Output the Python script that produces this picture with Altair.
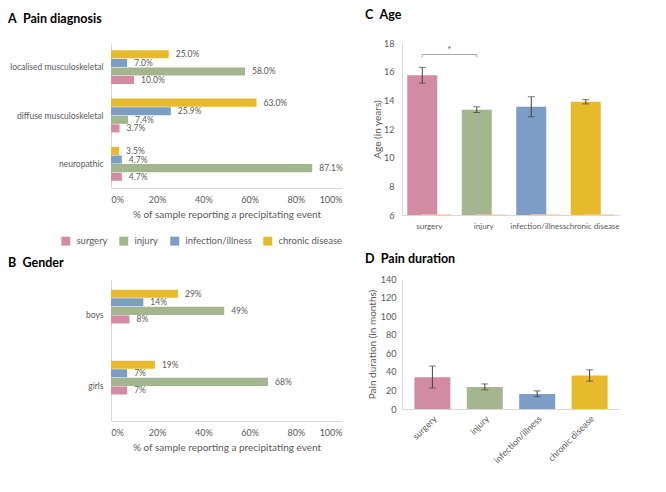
import altair as alt
import pandas as pd

FONT = "Lato"
GRAY = "#595959"

events = ["surgery", "injury", "infection/illness", "chronic disease"]
colors = ["#D38BA3", "#A4B68F", "#7C9DC5", "#E7BA2D"]

diag_categories = ["localised musculoskeletal", "diffuse musculoskeletal", "neuropathic"]
diag_surgery = [10.0, 3.7, 4.7]
diag_injury = [58.0, 7.4, 87.1]
diag_infection = [7.0, 25.9, 4.7]
diag_chronic = [25.0, 63.0, 3.5]

gender_categories = ["boys", "girls"]
gender_surgery = [8, 7]
gender_injury = [49, 68]
gender_infection = [14, 7]
gender_chronic = [29, 19]

pct_ticks = [0, 20, 40, 60, 80, 100]

age_mean = [15.75, 13.35, 13.55, 13.9]
age_low = [15.2, 13.15, 12.85, 13.75]
age_high = [16.3, 13.55, 14.25, 14.05]
age_base = [6, 6, 6, 6]
age_ticks = [6, 8, 10, 12, 14, 16, 18]

sig_x = ["surgery", "surgery", "injury", "injury"]
sig_y = [17.0, 17.2, 17.2, 17.0]
sig_label = ["*"]
sig_label_x = ["surgery"]
sig_label_y = [17.5]

dur_mean = [34.3, 23.8, 16.2, 36.1]
dur_low = [22.7, 20.6, 13.4, 30.0]
dur_high = [46.2, 27.0, 19.5, 42.2]
dur_base = [0, 0, 0, 0]
dur_ticks = [0, 20, 40, 60, 80, 100, 120, 140]


def title(text, dx, offset):
    return alt.TitleParams(text=text, anchor="start", frame="group", dx=dx, offset=offset,
                           font=FONT, fontSize=12.5, fontWeight="bold", color="black")


def pct_panel(cats, series, fmt, ttl, tdx, toff, h, legend):
    rows = []
    for ev, vals in zip(events, series):
        for c, v in zip(cats, vals):
            rows.append({"category": c, "event": ev, "value": v, "label": format(v, fmt) + "%"})
    df = pd.DataFrame(rows)
    base = alt.Chart(df).encode(
        y=alt.Y("category:N", scale=alt.Scale(domain=cats, paddingInner=0.3, paddingOuter=0.15),
                axis=alt.Axis(title=None, labelPadding=8, labelFontSize=8.5)),
        yOffset=alt.YOffset("event:N", scale=alt.Scale(domain=events[::-1], paddingInner=0.06)),
        x=alt.X("value:Q", scale=alt.Scale(domain=[0, 100]),
                axis=alt.Axis(values=pct_ticks, labelExpr="datum.value + '%'",
                              title="% of sample reporting a precipitating event",
                              labelPadding=7, titlePadding=5)),
    )
    bars = base.mark_bar().encode(
        color=alt.Color("event:N", scale=alt.Scale(domain=events, range=colors), legend=legend))
    text = base.mark_text(align="left", baseline="middle", dx=7, font=FONT, fontSize=8.5,
                          color=GRAY).encode(text="label:N")
    return alt.layer(bars, text).properties(width=231, height=h, title=title(ttl, tdx, toff))


legendA = alt.Legend(orient="none", legendX=-50, legendY=193, direction="horizontal", title=None,
                     symbolType="square", symbolSize=80, symbolStrokeWidth=0, labelFont=FONT,
                     labelFontSize=9.5, labelColor=GRAY, labelOffset=6, columnPadding=11)

A = pct_panel(diag_categories, [diag_surgery, diag_injury, diag_infection, diag_chronic], ".1f",
              "A\u2002Pain diagnosis", -103, 18, 145, legendA)
B = pct_panel(gender_categories, [gender_surgery, gender_injury, gender_infection, gender_chronic], ".0f",
              "B\u2002Gender", -103, 10, 142, None)

color_nolegend = alt.Color("event:N", scale=alt.Scale(domain=events, range=colors), legend=None)

# Panel C
age_df = pd.DataFrame({"event": events, "mean": age_mean, "low": age_low, "high": age_high, "base": age_base})
xC = alt.X("event:N", scale=alt.Scale(domain=events, paddingInner=0, paddingOuter=0),
           axis=alt.Axis(title=None, labelAngle=0, labelPadding=7, labelFontSize=8))
yscC = alt.Scale(domain=[6, 18], zero=False, nice=False)
axC = alt.Axis(values=age_ticks, title="Age (in years)", labelPadding=8, titlePadding=1, labelOverlap=False)


def yc(field):
    return alt.Y(field, scale=yscC, axis=axC)


cBase = alt.Chart(age_df)
c_bars = cBase.mark_bar(width=30, xOffset=-7).encode(x=xC, y=yc("mean:Q"), y2="base:Q", color=color_nolegend)
c_baseline = cBase.mark_tick(size=30, thickness=2, xOffset=7, color="#F8CBAD", orient="horizontal").encode(
    x=xC, y=yc("base:Q"))
c_err = cBase.mark_rule(xOffset=-7, color="#404040").encode(x=xC, y=yc("low:Q"), y2="high:Q")
c_cap1 = cBase.mark_tick(xOffset=-7, size=7, thickness=1, color="#404040", orient="horizontal").encode(
    x=xC, y=yc("low:Q"))
c_cap2 = cBase.mark_tick(xOffset=-7, size=7, thickness=1, color="#404040", orient="horizontal").encode(
    x=xC, y=yc("high:Q"))
sig_df = pd.DataFrame({"event": sig_x, "y": sig_y, "order": list(range(len(sig_x)))})
c_sig = alt.Chart(sig_df).mark_line(xOffset=-7, color="#A6A6A6", strokeWidth=1).encode(
    x=xC, y=yc("y:Q"), order="order:O")
star_df = pd.DataFrame({"event": sig_label_x, "y": sig_label_y, "t": sig_label})
c_star = alt.Chart(star_df).mark_text(dx=20, font=FONT, fontSize=10, color=GRAY).encode(
    x=xC, y=yc("y:Q"), text="t:N")
C = alt.layer(c_bars, c_baseline, c_err, c_cap1, c_cap2, c_sig, c_star).properties(
    width=218, height=172, title=title("C\u2002Age", -37, 18))

# Panel D
dur_df = pd.DataFrame({"event": events, "mean": dur_mean, "low": dur_low, "high": dur_high, "base": dur_base})
xD = alt.X("event:N", scale=alt.Scale(domain=events, paddingInner=0.32, paddingOuter=0.24),
           axis=alt.Axis(title=None, labelAngle=-45, labelPadding=5))
yscD = alt.Scale(domain=[0, 140], nice=False)
axD = alt.Axis(values=dur_ticks, title="Pain duration (in months)", labelPadding=6, titlePadding=3,
               labelOverlap=False)


def yd(field):
    return alt.Y(field, scale=yscD, axis=axD)


dBase = alt.Chart(dur_df)
d_bars = dBase.mark_bar(width=36).encode(x=xD, y=yd("mean:Q"), y2="base:Q", color=color_nolegend)
d_err = dBase.mark_rule(color="#404040").encode(x=xD, y=yd("low:Q"), y2="high:Q")
d_cap1 = dBase.mark_tick(size=7, thickness=1, color="#404040", orient="horizontal").encode(
    x=xD, y=yd("low:Q"))
d_cap2 = dBase.mark_tick(size=7, thickness=1, color="#404040", orient="horizontal").encode(
    x=xD, y=yd("high:Q"))
D = alt.layer(d_bars, d_err, d_cap1, d_cap2).properties(
    width=218, height=130, title=title("D\u2002Pain duration", -37, 10))

chart = alt.concat(A, C, B, D, columns=2, spacing={"row": 6, "column": 22}).resolve_scale(
    color="independent"
).properties(
    padding=0
).configure_view(stroke=None).configure_axis(
    labelFont=FONT, titleFont=FONT, labelColor=GRAY, titleColor=GRAY, domainColor="#D9D9D9",
    ticks=False, grid=False, labelFontSize=9, titleFontSize=10, titleFontWeight="normal",
    labelOverlap=False
)

chart.save("out.html", embed_options={"renderer": "svg", "actions": False})
